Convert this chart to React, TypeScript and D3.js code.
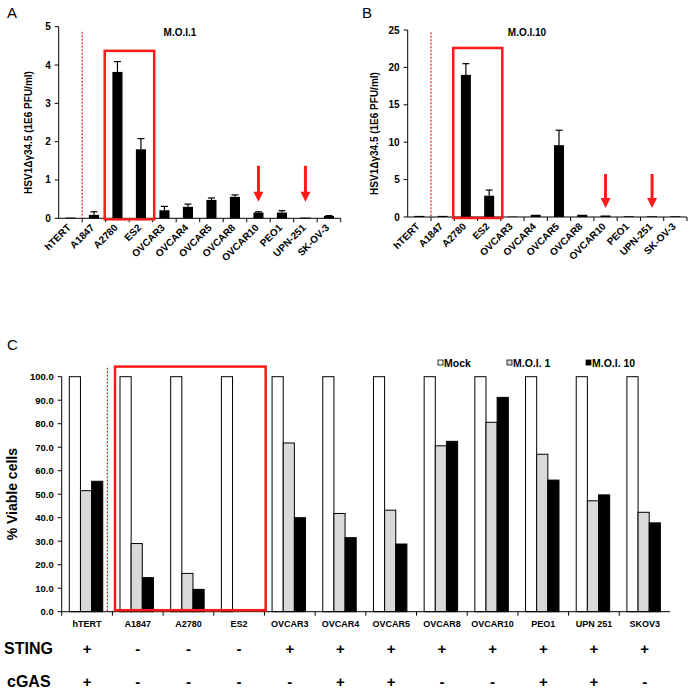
import React from "react";
import * as d3 from "d3";

const categoriesAB = ["hTERT", "A1847", "A2780", "ES2", "OVCAR3", "OVCAR4", "OVCAR5", "OVCAR8", "OVCAR10", "PEO1", "UPN-251", "SK-OV-3"];
const moi1Titer = [0.02, 0.09, 3.82, 1.8, 0.21, 0.3, 0.48, 0.56, 0.15, 0.15, 0.02, 0.06];
const moi1Err = [0, 0.08, 0.27, 0.28, 0.1, 0.07, 0.05, 0.05, 0.02, 0.05, 0, 0.01];
const moi10Titer = [0.15, 0.15, 19.0, 2.85, 0.05, 0.3, 9.6, 0.3, 0.2, 0.1, 0.1, 0.1];
const moi10Err = [0, 0, 1.5, 0.75, 0, 0, 2.0, 0, 0, 0, 0, 0];
const arrowCatsAB = ["OVCAR10", "UPN-251"];
const boxCatsAB = ["A2780", "ES2"];
const yTicksA = [0, 1, 2, 3, 4, 5];
const yTicksB = [0, 5, 10, 15, 20, 25];

const categoriesC = ["hTERT", "A1847", "A2780", "ES2", "OVCAR3", "OVCAR4", "OVCAR5", "OVCAR8", "OVCAR10", "PEO1", "UPN 251", "SKOV3"];
const seriesC = ["Mock", "M.O.I. 1", "M.O.I. 10"];
const mockViable = [100, 100, 100, 100, 100, 100, 100, 100, 100, 100, 100, 100];
const moi1Viable = [51.5, 29.0, 16.3, 0, 71.8, 41.8, 43.2, 70.6, 80.6, 67.0, 47.2, 42.3];
const moi10Viable = [55.5, 14.5, 9.5, 0, 40.0, 31.5, 28.8, 72.5, 91.2, 56.0, 49.7, 37.8];
const stingStatus = ["+", "-", "-", "-", "+", "+", "+", "+", "+", "+", "+", "+"];
const cgasStatus = ["+", "-", "-", "-", "-", "+", "+", "-", "-", "+", "+", "-"];
const yTicksC = [0, 10, 20, 30, 40, 50, 60, 70, 80, 90, 100];

const FONT = "Arial, 'Liberation Sans', Helvetica, sans-serif";
const RED = "#ff1a1a";

type TiterProps = {
  title: string;
  letter: string;
  values: number[];
  errs: number[];
  ticks: number[];
  yMax: number;
  x0: number;
  x1: number;
  yTop: number;
  yBottom: number;
  boxTop: number;
  dashTop: number;
  arrowTop: number;
  arrowTip: number;
  letterX: number;
  labelX: number;
  titleX: number;
};

function TiterPanel(p: TiterProps) {
  const x = d3.scaleBand<string>().domain(categoriesAB).range([p.x0, p.x1]).padding(0);
  const y = d3.scaleLinear().domain([0, p.yMax]).range([p.yBottom, p.yTop]);
  const bw = x.bandwidth();
  const barW = bw * 0.43;
  const boxL = (x(boxCatsAB[0]) as number) - 1;
  const boxR = (x(boxCatsAB[1]) as number) + bw + 1.5;
  const dashX = (x(categoriesAB[1]) as number);
  return (
    <g fontFamily={FONT}>
      <text x={p.letterX} y={18} fontSize={15}>{p.letter}</text>
      <text x={p.titleX} y={36} fontSize={10} fontWeight="bold" textAnchor="middle">{p.title}</text>
      <text
        transform={`translate(${p.labelX},${(p.yTop + p.yBottom) / 2 + 10}) rotate(-90)`}
        fontSize={10}
        fontWeight="bold"
        textAnchor="middle"
      >
        HSV1Δγ34.5 (1E6 PFU/ml)
      </text>
      {/* y axis */}
      <line x1={p.x0} x2={p.x0} y1={p.yTop} y2={p.yBottom} stroke="#000" strokeWidth={1} />
      {p.ticks.map((t) => (
        <g key={t}>
          <line x1={p.x0 - 4} x2={p.x0} y1={y(t)} y2={y(t)} stroke="#000" />
          <text x={p.x0 - 8} y={y(t) + 3.5} fontSize={10} fontWeight="bold" textAnchor="end">{t}</text>
        </g>
      ))}
      {/* x axis */}
      <line x1={p.x0} x2={p.x1} y1={p.yBottom} y2={p.yBottom} stroke="#000" strokeWidth={1} />
      {categoriesAB.map((c, i) => (
        <line key={"t" + i} x1={(x(c) as number) + bw} x2={(x(c) as number) + bw} y1={p.yBottom} y2={p.yBottom + 4} stroke="#000" />
      ))}
      {/* bars */}
      {categoriesAB.map((c, i) => {
        const cx = (x(c) as number) + bw / 2;
        const v = p.values[i];
        const e = p.errs[i];
        return (
          <g key={c}>
            <rect x={cx - barW / 2} y={y(v)} width={barW} height={p.yBottom - y(v)} fill="#000" />
            {e > 0 && (
              <g stroke="#000" strokeWidth={1.2}>
                <line x1={cx} x2={cx} y1={y(v)} y2={y(v + e)} />
                <line x1={cx - 3.5} x2={cx + 3.5} y1={y(v + e)} y2={y(v + e)} />
              </g>
            )}
            <text
              transform={`translate(${cx + 1},${p.yBottom + 10}) rotate(-45)`}
              fontSize={10}
              fontWeight="bold"
              textAnchor="end"
            >
              {c}
            </text>
          </g>
        );
      })}
      {/* dashed separator */}
      <line x1={dashX} x2={dashX} y1={y(p.dashTop)} y2={p.yBottom} stroke={RED} strokeWidth={1.2} strokeDasharray="2,1.5" />
      {/* red box */}
      <rect x={boxL} y={y(p.boxTop)} width={boxR - boxL} height={p.yBottom + 1 - y(p.boxTop)} fill="none" stroke={RED} strokeWidth={2.5} />
      {/* arrows */}
      {arrowCatsAB.map((c) => {
        const cx = (x(c) as number) + bw / 2;
        const tip = y(p.arrowTip);
        return (
          <g key={"a" + c}>
            <line x1={cx} x2={cx} y1={y(p.arrowTop)} y2={tip - 8} stroke={RED} strokeWidth={3} />
            <path d={`M${cx - 5},${tip - 10} L${cx + 5},${tip - 10} L${cx},${tip} Z`} fill={RED} />
          </g>
        );
      })}
    </g>
  );
}

function ViabilityPanel() {
  const x0 = 61.7;
  const x1 = 670;
  const yTop = 376.7;
  const yBottom = 611.7;
  const x = d3.scaleBand<string>().domain(categoriesC).range([x0, x1]).padding(0);
  const bw = x.bandwidth();
  const inner = d3.scaleBand<string>().domain(seriesC).range([-bw * 0.35, bw * 0.31]).padding(0);
  const y = d3.scaleLinear().domain([0, 100]).range([yBottom, yTop]);
  const fills = ["#ffffff", "#d9d9d9", "#000000"];
  const series = [mockViable, moi1Viable, moi10Viable];
  const boxL = (x(categoriesC[1]) as number) + 2.6;
  const boxR = (x(categoriesC[4]) as number) + 1.2;
  const dashX = (x(categoriesC[1]) as number) - 5;
  const legendX = [438, 507, 586];
  const fmt = d3.format(".1f");
  return (
    <g fontFamily={FONT}>
      <text x={7} y={350} fontSize={15}>C</text>
      <text transform={`translate(17,${(yTop + yBottom) / 2}) rotate(-90)`} fontSize={14} fontWeight="bold" textAnchor="middle">
        % Viable cells
      </text>
      {/* y axis */}
      <line x1={x0} x2={x0} y1={yTop} y2={yBottom} stroke="#000" />
      {yTicksC.map((t) => (
        <g key={t}>
          <line x1={x0 - 4} x2={x0} y1={y(t)} y2={y(t)} stroke="#000" />
          <text x={x0 - 8} y={y(t) + 3.5} fontSize={9.5} fontWeight="bold" textAnchor="end">{fmt(t)}</text>
        </g>
      ))}
      {/* bars */}
      {categoriesC.map((c, i) => {
        const cx = (x(c) as number) + bw / 2;
        return (
          <g key={c}>
            {seriesC.map((s, j) => {
              const v = series[j][i];
              if (v <= 0) return null;
              return (
                <rect
                  key={s}
                  x={cx + (inner(s) as number)}
                  y={y(v)}
                  width={inner.bandwidth()}
                  height={yBottom - y(v)}
                  fill={fills[j]}
                  stroke="#000"
                  strokeWidth={1}
                />
              );
            })}
            <text x={cx} y={627} fontSize={9} fontWeight="bold" textAnchor="middle">{c}</text>
            <text x={cx} y={654} fontSize={15} fontWeight="bold" textAnchor="middle">{stingStatus[i]}</text>
            <text x={cx} y={687} fontSize={15} fontWeight="bold" textAnchor="middle">{cgasStatus[i]}</text>
          </g>
        );
      })}
      {/* x axis */}
      <line x1={x0} x2={x1} y1={yBottom} y2={yBottom} stroke="#000" />
      {categoriesC.map((c, i) => (
        <line key={"t" + i} x1={(x(c) as number)} x2={(x(c) as number)} y1={yBottom} y2={yBottom + 4} stroke="#000" />
      ))}
      <text x={4} y={654} fontSize={16} fontWeight="bold">STING</text>
      <text x={7} y={687} fontSize={16} fontWeight="bold">cGAS</text>
      {/* dashed separator */}
      <line x1={dashX} x2={dashX} y1={y(103.8)} y2={yBottom} stroke={RED} strokeWidth={1.2} strokeDasharray="2,1.5" />
      {/* red box */}
      <rect x={boxL} y={y(104.3)} width={boxR - boxL} height={yBottom - 1.5 - y(104.3)} fill="none" stroke={RED} strokeWidth={2.5} />
      {/* legend */}
      {seriesC.map((s, j) => (
        <g key={"l" + s}>
          <rect x={legendX[j]} y={360} width={5} height={5} fill={fills[j]} stroke="#000" strokeWidth={0.8} />
          <text x={legendX[j] + 6} y={366.5} fontSize={10.5} fontWeight="bold">{s}</text>
        </g>
      ))}
    </g>
  );
}

export default function App() {
  return (
    <div style={{ position: "absolute", left: 0, top: 0, width: 690, height: 690, background: "#fff" }}>
      <svg width={690} height={690} viewBox="0 0 690 690" style={{ display: "block" }}>
        <rect width={690} height={690} fill="#fff" />
        <TiterPanel
          title="M.O.I.1"
          letter="A"
          values={moi1Titer}
          errs={moi1Err}
          ticks={yTicksA}
          yMax={5}
          x0={58.7}
          x1={340.7}
          yTop={26.7}
          yBottom={218.3}
          boxTop={4.37}
          dashTop={4.87}
          arrowTop={1.37}
          arrowTip={0.43}
          letterX={7}
          labelX={32}
          titleX={180}
        />
        <TiterPanel
          title="M.O.I.10"
          letter="B"
          values={moi10Titer}
          errs={moi10Err}
          ticks={yTicksB}
          yMax={25}
          x0={407.7}
          x1={687}
          yTop={30}
          yBottom={217}
          boxTop={22.6}
          dashTop={24.7}
          arrowTop={5.75}
          arrowTip={1.2}
          letterX={362}
          labelX={378}
          titleX={527}
        />
        <ViabilityPanel />
      </svg>
    </div>
  );
}
